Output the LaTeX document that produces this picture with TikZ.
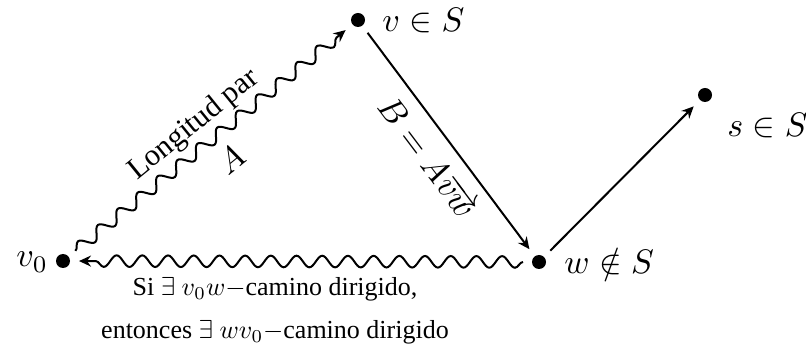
\documentclass[tikz,border=0pt]{standalone}
\usepackage[no-math]{fontspec}
\setmainfont{Liberation Serif}
\newfontfamily\tms{Liberation Serif}
\usetikzlibrary{decorations.pathmorphing,arrows.meta}
\begin{document}
\begin{tikzpicture}[x=1pt,y=-1pt,line width=2pt,
  >={Stealth[length=12pt,width=11pt,inset=4pt]},
  dot/.style={circle,fill,inner sep=0pt,minimum size=14pt,outer sep=9pt},
  snk/.style={decorate,decoration={snake,amplitude=5.8pt,segment length=25.7pt,post length=10pt}},
  lbl/.style={inner sep=0pt,scale=3.4},
  txt/.style={inner sep=0pt,scale=2.6,font=\tms\fontsize{10}{16.5}\selectfont,align=center},
  slp/.style={inner sep=0pt,scale=3.05,font=\tms}]
\useasboundingbox (0,0) rectangle (806,352);
\node[dot] (v0) at (63,261) {};
\node[dot] (v) at (358,20) {};
\node[dot] (w) at (539,262) {};
\node[dot] (s) at (705,95) {};
\node[lbl,anchor=base west] (lv0) at (13,267) {$v_0$};
\node[lbl,anchor=base west] (lv) at (379,32) {$v\in S$};
\node[lbl,anchor=base west] (lw) at (561,274) {$w\notin S$};
\node[lbl,anchor=base west] (ls) at (724,137) {$s\in S$};
\draw[snk,->] (v0) -- (v);
\draw[snk,->] (w) -- (v0);
\draw[->] (v) -- (w);
\draw[->] (w) -- (s);
\node[slp,rotate=39] (lp) at (194,125) {Longitud par};
\node[lbl,rotate=39] (la) at (231,159) {$A$};
\node[lbl,rotate=-53] (lb) at (428,157) {$B = A\overrightarrow{vw}$};
\node[txt] (cap) at (275,311) {Si $\exists$ $v_0w-$camino dirigido,\\ entonces $\exists$ $wv_0-$camino dirigido};
\end{tikzpicture}
\end{document}
